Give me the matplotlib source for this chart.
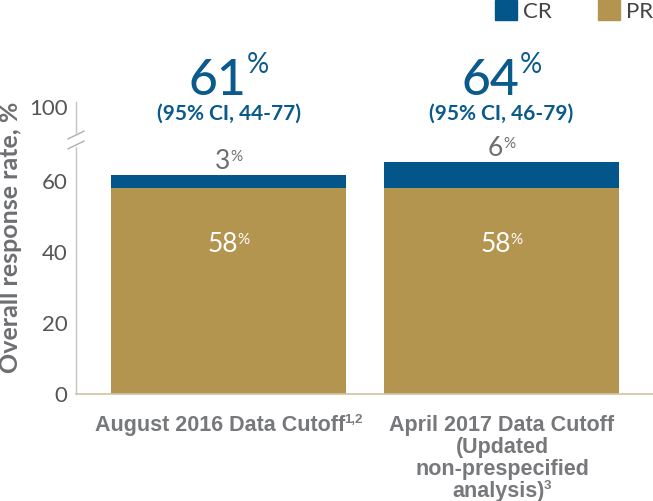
import matplotlib
matplotlib.use("Agg")
import matplotlib.pyplot as plt
import matplotlib.transforms as mtrans
from matplotlib.patches import Patch

# ---- data ----
categories = ["August 2016 Data Cutoff", "April 2017 Data Cutoff"]
category_lines = [["August 2016 Data Cutoff"],
                  ["April 2017 Data Cutoff", "(Updated", "non-prespecified", "analysis)"]]
category_refs = ["1,2", "3"]
series = ["CR", "PR"]
pr_values = [58, 58]
cr_values = [3.7, 7.4]
pr_labels = ["58", "58"]
cr_labels = ["3", "6"]
orr_labels = ["61", "64"]
ci_labels = ["(95% CI, 44-77)", "(95% CI, 46-79)"]
ytick_values = [0, 20, 40, 60]
ytick_labels = ["0", "20", "40", "60"]
ytop_label = "100"

CR_COLOR = "#03568a"
PR_COLOR = "#b3954f"
BLUE_TXT = "#0a5a8c"
GRAY_TXT = "#6d6e71"

fig = plt.figure(figsize=(6.53, 5.01), dpi=100)
W, H = 653, 501
px = 3.55  # pixels per unit
ax = fig.add_axes([76 / W, (H - 394) / H, (W - 76) / W, 292 / H])
ymax = 292 / px
ax.set_ylim(0, ymax)
ax.set_xlim(-0.5586, 1.5549)

x = list(range(len(categories)))
width = 0.86
ax.bar(x, pr_values, width=width, color=PR_COLOR, zorder=2, label="PR")
ax.bar(x, cr_values, width=width, bottom=pr_values, color=CR_COLOR, zorder=2, label="CR")

for s in ["top", "right"]:
    ax.spines[s].set_visible(False)
ax.spines["left"].set_color("#c4c4c4")
ax.spines["left"].set_linewidth(1.0)
ax.spines["bottom"].set_color("#cfc3a2")
ax.spines["bottom"].set_linewidth(1.2)

top_tick = (394 - 107) / px
ax.set_yticks(ytick_values + [top_tick])
ax.set_yticklabels(ytick_labels + [ytop_label], fontfamily="Lato", fontweight="normal",
                   fontsize=16, color="#555555")
ax.tick_params(axis="y", length=0, pad=6)
ax.set_xticks([])

# axis break marks
bt = mtrans.blended_transform_factory(ax.transAxes, ax.transData)
brk = (394 - 140) / px
dxa = 8 / ((W - 76))
ax.plot([0, 0], [brk - 1.3, brk + 1.3], color="white", lw=2.5, transform=bt, clip_on=False, zorder=5)
for c in (brk - 1.4, brk + 1.4):
    ax.plot([-dxa, dxa], [c - 1.1, c + 1.1], color="#b0b0b0", lw=1.0, transform=bt,
            clip_on=False, zorder=6)

renderer = fig.canvas.get_renderer()


def sup_text(xc, y, main, sup, size, sup_size, rise, color, weight, family,
             sup_weight=None, dy=0, gap=0):
    t = ax.text(xc, y, main, fontsize=size, color=color, fontweight=weight,
                fontfamily=family, ha="left", va="baseline", zorder=7)
    s = ax.text(xc, y, sup, fontsize=sup_size, color=color,
                fontweight=sup_weight or weight, fontfamily=family,
                ha="left", va="baseline", zorder=7)
    w1 = t.get_window_extent(renderer).width
    w2 = s.get_window_extent(renderer).width if sup else 0
    total = w1 + gap + w2
    t.set_transform(mtrans.offset_copy(ax.transData, fig=fig, x=-total / 2, y=dy, units="dots"))
    s.set_transform(mtrans.offset_copy(ax.transData, fig=fig, x=-total / 2 + w1 + gap,
                                       y=dy + rise, units="dots"))


for i in x:
    top = pr_values[i] + cr_values[i]
    # overall response rate
    sup_text(i, (394 - 95) / px, orr_labels[i], "%", 36, 20, 22, BLUE_TXT, "medium", "Lato",
             sup_weight="normal")
    ax.text(i, (394 - 120) / px, ci_labels[i], fontsize=15, color=BLUE_TXT,
            fontweight="bold", fontfamily="Lato", ha="center", va="baseline")
    # CR label
    sup_text(i, top + 1.6, cr_labels[i], "%", 19, 11, 8, GRAY_TXT, "normal", "Lato")
    # PR label
    sup_text(i, pr_values[i] - 18, pr_labels[i], "%", 19, 11, 8, "white", "normal", "Lato")
    # category label
    lines = category_lines[i]
    for j, ln in enumerate(lines):
        sup = category_refs[i] if j == len(lines) - 1 else ""
        sup_text(i, 0, ln, sup, 15.5, 9.5, 8, "#77787b", "bold", "Liberation Sans",
                 dy=-(37 + 22 * j), gap=-1)

fig.text(11 / W, (H - 237) / H, "Overall response rate, %", rotation=90, ha="center",
         va="center", fontsize=18, color=GRAY_TXT, fontweight="bold", fontfamily="Lato")

handles = [Patch(color=CR_COLOR), Patch(color=PR_COLOR)]
leg = fig.legend(handles, series, loc="upper right", bbox_to_anchor=(1.0, 1.0), ncol=2,
                 frameon=False, handlelength=1.0, handleheight=1.0, handletextpad=0.25,
                 columnspacing=2.1, borderpad=0, borderaxespad=0,
                 prop={"family": "Lato", "weight": "normal", "size": 16})
for t in leg.get_texts():
    t.set_color("#444444")

fig.savefig("out.png", dpi=100)
